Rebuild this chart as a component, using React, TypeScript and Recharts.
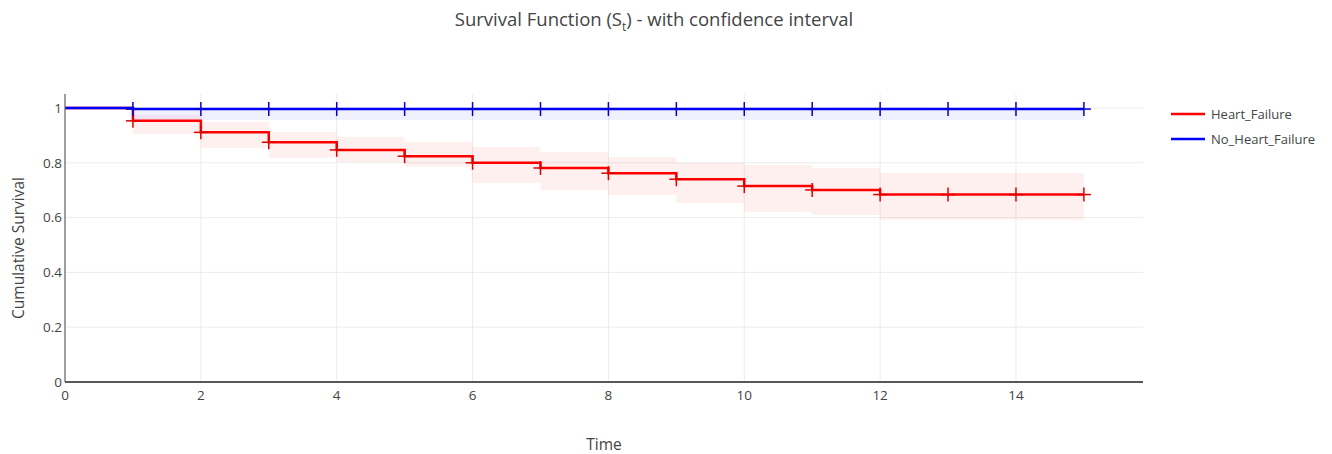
import React from 'react';
import {
  ComposedChart, Line, Area, XAxis, YAxis, CartesianGrid, Legend
} from 'recharts';

const times = [0, 1, 2, 3, 4, 5, 6, 7, 8, 9, 10, 11, 12, 13, 14, 15];

const heartFailure = [1, 0.953, 0.911, 0.875, 0.847, 0.824, 0.8, 0.781, 0.762, 0.74, 0.715, 0.701, 0.684, 0.684, 0.684, 0.684];
const heartFailureUpper = [1, 0.975, 0.949, 0.912, 0.894, 0.877, 0.858, 0.839, 0.82, 0.8, 0.792, 0.781, 0.763, 0.763, 0.763, 0.763];
const heartFailureLower = [1, 0.905, 0.854, 0.818, 0.803, 0.786, 0.726, 0.7, 0.682, 0.653, 0.62, 0.609, 0.592, 0.592, 0.592, 0.592];

const noHeartFailure = [1, 0.996, 0.996, 0.996, 0.996, 0.996, 0.996, 0.996, 0.996, 0.996, 0.996, 0.996, 0.996, 0.996, 0.996, 0.996];
const noHeartFailureUpper = [1, 1, 1, 1, 1, 1, 1, 1, 1, 1, 1, 1, 1, 1, 1, 1];
const noHeartFailureLower = [1, 0.956, 0.956, 0.956, 0.956, 0.956, 0.956, 0.956, 0.956, 0.956, 0.956, 0.956, 0.956, 0.956, 0.956, 0.956];

const xTicks = [0, 2, 4, 6, 8, 10, 12, 14];
const yTicks = [0, 0.2, 0.4, 0.6, 0.8, 1];

const RED = '#ff0000';
const BLUE = '#0000ff';
const FONT = '"Open Sans", sans-serif';

const data = times.map((t, i) => ({
  t,
  hf: heartFailure[i],
  hfBand: [heartFailureLower[i], heartFailureUpper[i]],
  nhf: noHeartFailure[i],
  nhfBand: [noHeartFailureLower[i], noHeartFailureUpper[i]],
}));

// censor markers: thin "+" at each point except the start
const crossDot = (color: string) => (props: any) => {
  const { cx, cy, index } = props;
  if (index === 0 || cx == null || cy == null) return <g key={`d-${index}`} />;
  return (
    <g key={`d-${index}`}>
      <line x1={cx - 7} y1={cy} x2={cx + 7} y2={cy} stroke={color} strokeWidth={1.5} />
      <line x1={cx} y1={cy - 7} x2={cx} y2={cy + 7} stroke={color} strokeWidth={1.5} />
    </g>
  );
};

const renderLegend = (props: any) => {
  const items = (props.payload || []).filter((p: any) => p.type !== 'none');
  return (
    <div style={{ fontFamily: FONT, fontSize: 13, color: '#444' }}>
      {items.map((p: any) => (
        <div key={p.value} style={{ display: 'flex', alignItems: 'center', height: 25 }}>
          <svg width={34} height={6} style={{ marginRight: 6 }}>
            <line x1={0} y1={3} x2={34} y2={3} stroke={p.color} strokeWidth={2.5} />
          </svg>
          <span>{p.value}</span>
        </div>
      ))}
    </div>
  );
};

export default function App() {
  return (
    <div style={{ position: 'absolute', left: 0, top: 0, width: 1332, height: 454, background: '#fff' }}>
      <div style={{ position: 'absolute', left: 0, width: 1308, top: 6, textAlign: 'center', fontFamily: FONT, fontSize: 18.5, color: '#444' }}>
        Survival Function (S<sub style={{ fontSize: 12 }}>t</sub>) - with confidence interval
      </div>
      <div style={{ position: 'absolute', left: 604, top: 433, transform: 'translateX(-50%)', fontFamily: FONT, fontSize: 15.5, color: '#444' }}>
        Time
      </div>
      <div style={{ position: 'absolute', left: 18, top: 248, transform: 'translate(-50%, -50%) rotate(-90deg)', whiteSpace: 'nowrap', fontFamily: FONT, fontSize: 15.5, color: '#444' }}>
        Cumulative Survival
      </div>
      <ComposedChart
        width={1332}
        height={454}
        data={data}
        margin={{ top: 94, right: 189, bottom: 42, left: 5 }}
        style={{ position: 'absolute', left: 0, top: 0 }}
      >
        <CartesianGrid stroke="#ececec" horizontalValues={yTicks} verticalValues={xTicks} />
        <XAxis
          dataKey="t"
          type="number"
          domain={[0, 15.87]}
          ticks={xTicks}
          allowDataOverflow
          height={30}
          tickLine={false}
          axisLine={{ stroke: '#222', strokeWidth: 1.5 }}
          tick={{ fill: '#444', fontSize: 13.5, fontFamily: FONT }}
        />
        <YAxis
          type="number"
          domain={[0, 1.051]}
          ticks={yTicks}
          allowDataOverflow
          width={60}
          tickSize={0}
          tickMargin={3}
          tickLine={false}
          axisLine={{ stroke: '#666', strokeWidth: 1.2 }}
          tick={{ fill: '#444', fontSize: 13.5, fontFamily: FONT }}
          tickFormatter={(v: number) => String(Number(v.toFixed(1)))}
        />
        <Legend
          layout="vertical"
          align="center"
          verticalAlign="middle"
          content={renderLegend}
          wrapperStyle={{ left: 1171, top: 101, width: 160 }}
        />
        <Area
          type="stepAfter"
          dataKey="hfBand"
          stroke="none"
          fill={RED}
          fillOpacity={0.06}
          legendType="none"
          isAnimationActive={false}
        />
        <Area
          type="stepAfter"
          dataKey="nhfBand"
          stroke="none"
          fill={BLUE}
          fillOpacity={0.06}
          legendType="none"
          isAnimationActive={false}
        />
        <Line
          type="stepAfter"
          dataKey="hf"
          name="Heart_Failure"
          stroke={RED}
          strokeWidth={2.5}
          dot={crossDot('#e00000')}
          activeDot={false}
          isAnimationActive={false}
        />
        <Line
          type="stepAfter"
          dataKey="nhf"
          name="No_Heart_Failure"
          stroke={BLUE}
          strokeWidth={2.5}
          dot={crossDot('#0000d8')}
          activeDot={false}
          isAnimationActive={false}
        />
      </ComposedChart>
    </div>
  );
}
